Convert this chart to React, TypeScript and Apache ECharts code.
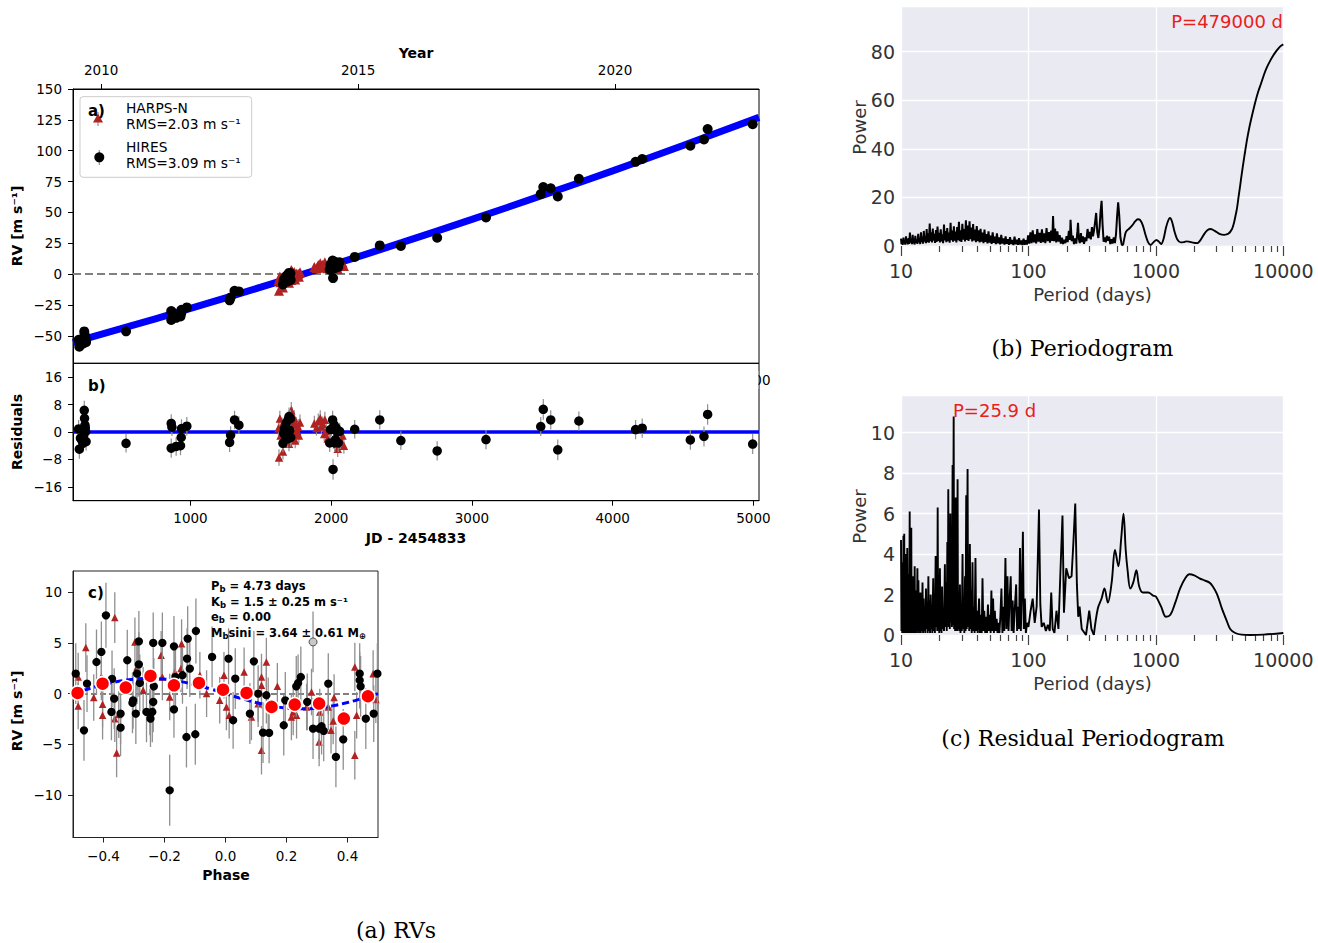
import { useEffect, useRef } from "react";
import * as echarts from "echarts";

const FONT = "DejaVu Sans";
const SERIF = "DejaVu Serif";
const HARPS_RED = "#b22222";
const ERR_GREY = "#8f8f8f";
const SEABORN_BG = "#eaeaf2";

// ---------- Panels a / b : RV time series, days since JD 2454833 ----------
const jdRange = [165, 5040];
const jdTicks = [1000, 2000, 3000, 4000, 5000];
const yearTickDays = [365, 2191, 4017];
const yearTickLabels = ["2010", "2015", "2020"];
const rvTicks = [-50, -25, 0, 25, 50, 75, 100, 125, 150];
const residTicks = [-16, -8, 0, 8, 16];

// long-period trend model [day, RV]
const trendModel = [
  [165, -55.2], [500, -44.4], [1000, -27.7], [1500, -10.5], [2000, 7.2], [2500, 25.5],
  [3000, 44.4], [3500, 63.8], [4000, 83.7], [4500, 104.2], [5040, 127.0],
];

// HIRES: [day, RV, residual, error]
const hiresRv = [
  [205, -53.1, 0.9, 2.6], [210, -58.8, -5.0, 2.8], [218, -55.3, -1.8, 2.5], [225, -55.5, -2.2, 2.4],
  [235, -56.3, -3.3, 2.6], [240, -54.0, -1.2, 2.5], [245, -46.4, 6.3, 2.8], [247, -48.7, 4.0, 2.6],
  [250, -50.5, 2.0, 2.5], [252, -51.3, 1.2, 2.4], [255, -52.3, 0.1, 2.5], [258, -55.1, -2.8, 2.6],
  [542, -46.3, -3.3, 2.7],
  [863, -29.9, 2.5, 2.7], [868, -30.8, 1.4, 2.6], [863, -37.1, -4.7, 2.8], [898, -35.4, -4.2, 2.7],
  [929, -34.2, -4.0, 2.8], [934, -31.6, -1.6, 2.6], [936, -28.9, 1.0, 2.7], [974, -26.9, 1.7, 2.7],
  [1278, -21.2, -3.0, 2.8], [1285, -18.9, -0.9, 2.6], [1313, -13.5, 3.5, 2.7], [1344, -14.0, 2.0, 2.6],
  [1657, -8.3, -3.3, 2.6], [1662, -5.1, -0.3, 2.5], [1668, -3.6, 1.0, 2.5], [1675, -5.6, -1.2, 2.6],
  [1680, -1.6, 2.6, 2.5], [1690, -5.8, -2.0, 2.6], [1693, -0.2, 3.5, 2.5], [1700, 1.0, 4.5, 2.6],
  [1705, -2.8, 0.5, 2.5], [1710, 0.8, 3.9, 2.5], [1712, -4.7, -1.6, 2.6],
  [1989, 3.6, -3.2, 2.6], [1995, 7.7, 0.7, 2.5], [2010, 11.1, 3.5, 2.7], [2013, -3.2, -10.9, 3.0],
  [2020, 10.0, 2.1, 2.6], [2025, 4.9, -3.2, 2.6], [2030, 6.1, -2.2, 2.5], [2035, 9.7, 1.2, 2.5],
  [2040, 8.8, 0.2, 2.6], [2050, 5.8, -3.2, 2.6], [2060, 9.6, 0.2, 2.5],
  [2167, 14.0, 0.8, 2.7], [2345, 23.3, 3.5, 2.8], [2495, 22.8, -2.5, 2.7], [2753, 29.5, -5.5, 2.8],
  [3100, 46.0, -2.2, 2.8], [3489, 64.9, 1.6, 2.8], [3507, 70.6, 6.6, 3.0], [3560, 69.6, 3.5, 2.8],
  [3610, 62.9, -5.2, 3.0], [3760, 77.3, 3.2, 2.8], [4163, 91.0, 0.7, 2.8], [4210, 93.3, 1.1, 2.8],
  [4552, 104.0, -2.3, 2.9], [4649, 109.1, -1.3, 2.9], [4675, 117.5, 5.1, 3.0], [4995, 121.5, -3.5, 2.9],
];

// HARPS-N: [day, RV, residual, error]
const harpsRv = [
  [1625, -5.1, 1.1, 2.2], [1629, -13.5, -7.4, 2.4], [1635, -1.9, 3.9, 2.3], [1640, -6.6, -1.0, 2.2],
  [1650, -3.3, 2.0, 2.2], [1657, -10.7, -5.7, 2.3], [1700, -6.9, -3.4, 2.2], [1716, 3.4, 6.3, 2.4],
  [1716, -4.8, -1.9, 2.2], [1723, 2.2, 4.9, 2.3], [1730, 0.2, 2.6, 2.2], [1737, -2.8, -0.6, 2.2],
  [1737, 1.8, 4.0, 2.3], [1744, -4.4, -2.5, 2.2], [1751, 0.5, 2.2, 2.2], [1758, -1.1, 0.3, 2.2],
  [1765, 0.3, 1.5, 2.3], [1770, -2.0, -1.0, 2.2], [1778, 1.5, 2.8, 2.3],
  [1880, 5.8, 2.5, 2.2], [1895, 5.0, 1.2, 2.2], [1908, 7.4, 3.1, 2.3], [1922, 8.8, 4.0, 2.3],
  [1930, 6.7, 1.6, 2.2], [1940, 7.7, 2.3, 2.2], [1950, 5.2, -0.6, 2.2], [1955, 9.6, 3.6, 2.3],
  [1965, 6.6, 0.3, 2.2], [1975, 4.8, -1.9, 2.2], [2000, 8.2, 1.0, 2.2], [2020, 5.7, -2.5, 2.3],
  [2040, 5.4, -3.5, 2.3], [2046, 4.2, -4.9, 2.4], [2060, 7.7, -1.9, 2.2], [2080, 9.3, -1.0, 2.2],
  [2090, 6.7, -4.0, 2.3],
];

// ---------- Panel c : RVs folded on the 4.73 d period ----------
const phaseTicks = [-0.4, -0.2, 0, 0.2, 0.4];
const phaseRvTicks = [-10, -5, 0, 5, 10];

// [phase, RV, error]
const hiresPhased = [
  [-0.491, 1.97, 3.0], [-0.454, 0.99, 2.8], [-0.464, -3.62, 3.0], [-0.423, 3.12, 3.2],
  [-0.407, 4.11, 3.0], [-0.392, 7.73, 3.2], [-0.372, 1.45, 2.8], [-0.365, -0.49, 3.0],
  [-0.374, -1.81, 2.8], [-0.344, -1.97, 3.0], [-0.344, -3.36, 2.8], [-0.322, 3.29, 3.0],
  [-0.303, -0.66, 2.8], [-0.305, -0.92, 3.0], [-0.294, -1.97, 3.0], [-0.29, 1.97, 3.0],
  [-0.284, 2.89, 3.2], [-0.284, 5.16, 3.0], [-0.281, 1.05, 2.8], [-0.259, -1.81, 3.0],
  [-0.246, -2.47, 2.8], [-0.24, -1.81, 3.0], [-0.237, -0.82, 3.0], [-0.237, 5.0, 3.0],
  [-0.235, 0.72, 2.8], [-0.207, 5.0, 3.0], [-0.183, -9.54, 3.5], [-0.169, 4.67, 3.0],
  [-0.169, -1.55, 2.8], [-0.164, 1.64, 3.0], [-0.141, 1.81, 2.8], [-0.128, -4.28, 3.0],
  [-0.126, 3.45, 3.0], [-0.124, 5.43, 3.2], [-0.117, 2.47, 2.8], [-0.099, -4.01, 3.0],
  [-0.097, 6.18, 3.2], [-0.044, 3.62, 3.0], [0.01, 3.45, 3.0], [0.025, -2.63, 2.8],
  [0.032, 1.48, 3.0], [0.08, -1.97, 3.0], [0.093, 3.19, 3.0], [0.107, 0.0, 2.8],
  [0.123, -3.85, 3.0], [0.134, -0.16, 2.8], [0.143, -3.88, 3.0], [0.14, -1.22, 2.8],
  [0.191, -3.12, 3.0], [0.196, -0.66, 2.8], [0.232, 0.72, 3.0], [0.238, 1.05, 2.8],
  [0.247, 1.64, 3.0], [0.268, -0.82, 2.8], [0.287, -3.45, 3.0], [0.307, -3.45, 3.0],
  [0.315, -3.22, 2.8], [0.322, -3.68, 3.0], [0.337, 0.99, 3.0], [0.362, -6.25, 3.0],
  [0.386, -4.51, 3.0], [0.44, 1.97, 3.0], [0.44, 1.32, 2.8], [0.443, 0.72, 3.0],
  [0.46, -2.47, 3.0], [0.486, -1.97, 2.8], [0.498, 1.97, 3.0],
];

const harpsPhased = [
  [-0.483, 1.64, 2.4], [-0.483, -1.22, 2.3], [-0.458, 4.54, 2.4], [-0.432, -0.39, 2.3],
  [-0.407, 1.64, 2.3], [-0.403, -1.05, 2.3], [-0.403, -2.14, 2.4], [-0.363, 7.5, 2.5],
  [-0.357, -5.85, 2.4], [-0.363, -2.47, 2.3], [-0.35, -2.07, 2.3], [-0.297, 5.1, 2.4],
  [-0.29, 2.63, 2.3], [-0.27, 0.33, 2.3], [-0.248, -1.81, 2.3], [-0.211, 3.78, 2.4],
  [-0.207, 1.64, 2.3], [-0.183, -0.33, 2.3], [-0.166, 2.14, 2.3], [-0.144, 4.93, 2.4],
  [-0.146, 2.47, 2.3], [-0.084, 1.81, 2.3], [-0.062, 0.0, 2.3], [-0.019, -0.66, 2.3],
  [-0.005, 1.81, 2.3], [0.003, -1.32, 2.3], [0.012, -2.14, 2.3], [0.061, 2.14, 2.4],
  [0.085, -2.3, 2.3], [0.107, -0.99, 2.3], [0.118, 1.64, 2.3], [0.118, -5.59, 2.4],
  [0.118, 0.82, 2.3], [0.134, 3.12, 2.4], [0.17, 0.72, 2.3], [0.216, -2.3, 2.3],
  [0.222, -1.81, 2.3], [0.233, -2.14, 2.3], [0.266, -1.32, 2.3], [0.282, 0.16, 2.3],
  [0.307, -4.77, 2.4], [0.309, -1.81, 2.3], [0.337, -1.32, 2.3], [0.346, -3.62, 2.3],
  [0.353, -2.7, 2.3], [0.356, -0.39, 2.3], [0.424, 2.63, 2.4], [0.424, -6.08, 2.4],
  [0.43, -2.14, 2.3], [0.484, 1.97, 2.3], [0.493, -0.59, 2.3],
];

const flaggedPhased = [[0.287, 5.1, 3.0]];

const binnedPhased = [
  [-0.485, 0.07], [-0.403, 0.98], [-0.327, 0.6], [-0.246, 1.74], [-0.169, 0.82], [-0.087, 1.05],
  [-0.008, 0.39], [0.069, 0.07], [0.151, -1.31], [0.227, -1.08], [0.307, -0.98], [0.388, -2.46],
  [0.467, -0.26],
];

// circular orbit, K = 1.5 m/s
const keplerCurve = [
  [-0.5, 0], [-0.45, 0.46], [-0.4, 0.88], [-0.35, 1.21], [-0.3, 1.43], [-0.25, 1.5], [-0.2, 1.43],
  [-0.15, 1.21], [-0.1, 0.88], [-0.05, 0.46], [0, 0], [0.05, -0.46], [0.1, -0.88], [0.15, -1.21],
  [0.2, -1.43], [0.25, -1.5], [0.3, -1.43], [0.35, -1.21], [0.4, -0.88], [0.45, -0.46], [0.5, 0],
];

// ---------- Periodograms: [period (days), power] ----------
const minorPeriods = [20, 30, 40, 50, 60, 70, 80, 90, 200, 300, 400, 500, 600, 700, 800, 900,
  2000, 3000, 4000, 5000, 6000, 7000, 8000, 9000];
const majorPeriods = [10, 100, 1000, 10000];
const powerTicksB = [0, 20, 40, 60, 80];
const powerTicksC = [0, 2, 4, 6, 8, 10];

const periodogramNoisy = [
  [10.0, 3.0], [10.1, 0.8], [10.2, 2.4], [10.3, 0.5], [10.45, 3.5], [10.55, 1.0], [10.7, 2.2], [10.8, 0.6],
  [10.95, 4.0], [11.05, 1.2], [11.2, 2.8], [11.3, 0.7], [11.45, 3.2], [11.6, 0.9], [11.75, 5.5], [11.9, 1.4],
  [12.05, 2.6], [12.2, 0.8], [12.35, 4.6], [12.5, 1.1], [12.65, 3.0], [12.8, 0.6], [12.95, 4.2], [13.1, 1.3],
  [13.3, 2.7], [13.45, 0.9], [13.65, 5.0], [13.8, 1.5], [14.0, 3.4], [14.15, 0.8], [14.35, 5.6], [14.5, 1.6],
  [14.7, 3.9], [14.9, 1.0], [15.1, 6.2], [15.3, 1.8], [15.5, 4.1], [15.7, 1.2], [15.9, 7.0], [16.1, 1.6],
  [16.35, 5.2], [16.55, 1.4], [16.8, 9.2], [17.0, 2.0], [17.25, 5.6], [17.5, 1.5], [17.75, 7.2], [18.0, 2.2],
  [18.25, 5.0], [18.5, 1.3], [18.8, 6.6], [19.05, 1.7], [19.35, 8.0], [19.6, 2.1], [19.9, 5.4], [20.2, 1.5],
  [20.5, 6.9], [20.8, 1.9], [21.1, 4.8], [21.4, 1.2], [21.75, 8.8], [22.05, 2.3], [22.4, 6.1], [22.7, 1.6],
  [23.05, 7.4], [23.4, 2.0], [23.75, 5.5], [24.1, 1.4], [24.5, 9.6], [24.85, 2.4], [25.2, 6.3], [25.6, 1.8],
  [26.0, 8.1], [26.4, 2.2], [26.8, 5.9], [27.2, 1.5], [27.6, 7.8], [28.0, 2.4], [28.5, 10.0], [28.9, 2.0],
  [29.3, 6.5], [29.8, 1.7], [30.3, 9.1], [30.8, 2.6], [31.3, 7.0], [31.8, 1.9], [32.3, 10.6], [32.8, 2.5],
  [33.4, 8.4], [33.9, 2.1], [34.5, 10.2], [35.0, 2.8], [35.6, 7.6], [36.2, 1.9], [36.8, 9.0], [37.4, 2.3],
  [38.0, 6.8], [38.7, 1.6], [39.3, 8.2], [40.0, 2.0], [40.7, 6.4], [41.4, 1.5], [42.1, 7.1], [42.9, 1.8],
  [43.6, 5.5], [44.4, 1.2], [45.2, 6.8], [46.0, 1.7], [46.8, 4.9], [47.7, 1.1], [48.6, 6.0], [49.5, 1.4],
  [50.4, 4.3], [51.4, 0.9], [52.4, 5.6], [53.4, 1.3], [54.4, 3.8], [55.5, 0.8], [56.6, 5.2], [57.7, 1.1],
  [58.8, 3.5], [60.0, 0.7], [61.2, 4.6], [62.4, 1.0], [63.6, 3.1], [64.9, 0.6], [66.2, 4.0], [67.5, 0.9],
  [68.9, 2.8], [70.3, 0.5], [71.7, 3.6], [73.2, 0.8], [74.7, 2.5], [76.2, 0.4], [77.8, 3.9], [79.4, 0.7],
  [81.0, 2.6], [82.7, 0.5], [84.4, 3.2], [86.1, 0.6], [87.9, 2.3], [89.7, 0.4], [91.6, 3.0], [93.5, 0.5],
  [95.4, 2.4], [97.4, 0.6], [99.4, 4.4], [101.5, 1.0], [103.6, 5.6], [105.8, 1.2], [108.0, 6.4], [110.3, 1.5],
  [112.6, 4.8], [115.0, 1.1], [117.4, 7.0], [119.9, 1.8], [122.4, 5.4], [125.0, 1.3], [127.6, 6.9], [130.3, 1.6],
  [133.0, 5.2], [135.8, 1.2], [138.7, 7.4], [141.6, 2.0], [144.6, 5.7], [147.6, 1.4], [150.7, 6.3], [153.9, 2.1],
  [156.0, 12.3], [158.5, 2.0], [161.8, 7.2], [165.2, 1.5], [168.7, 6.0], [172.2, 1.8], [175.8, 4.5], [179.5, 1.0],
  [183.3, 3.4], [187.1, 0.8], [191.0, 2.6], [195.0, 1.2], [199.1, 4.1], [203.3, 1.6], [207.6, 6.2], [211.9, 2.5],
  [214.0, 10.8], [218.5, 2.0], [223.0, 4.3], [227.7, 0.8], [232.5, 3.1], [237.4, 1.0], [242.0, 5.8], [245.0, 9.5],
  [248.5, 3.0], [253.0, 1.2], [258.0, 5.3], [263.0, 1.6], [268.0, 4.0], [273.0, 0.9], [279.0, 3.5], [285.0, 2.0],
  [291.0, 7.0], [297.0, 3.2], [303.0, 5.8], [309.0, 2.7], [315.0, 7.8], [321.0, 4.0], [327.0, 6.4], [333.0, 9.5],
  [340.0, 13.6], [347.0, 5.6], [354.0, 3.3], [362.0, 8.0], [368.0, 14.0], [375.0, 18.6], [382.0, 8.5], [389.0, 1.8],
  [397.0, 3.5], [405.0, 1.5], [413.0, 4.2], [421.0, 2.2], [430.0, 3.8], [439.0, 0.8], [448.0, 2.8], [457.0, 1.0],
  [467.0, 3.5], [477.0, 1.2], [487.0, 5.0], [496.0, 12.0], [506.0, 18.0], [516.0, 12.5], [527.0, 3.5], [540.0, 0.6],
  [552.0, 0.3],
];

const periodogramSmooth = [
  [552, 0.3], [565, 3.0], [580, 5.6], [600, 6.6], [625, 7.4], [655, 8.6], [690, 10.2], [720, 11.0],
  [751, 10.8], [790, 8.5], [830, 4.5], [870, 1.5], [912, 0.4], [960, 1.6], [1012, 2.5], [1055, 1.8],
  [1101, 0.8], [1150, 3.0], [1200, 7.5], [1250, 10.5], [1290, 11.5], [1340, 10.0], [1400, 6.0], [1470, 2.8],
  [1566, 1.5], [1650, 1.6], [1730, 1.9], [1820, 1.8], [1950, 1.4], [2115, 1.2], [2250, 2.6], [2400, 5.0],
  [2550, 6.6], [2700, 7.0], [2900, 6.2], [3150, 5.0], [3440, 4.6], [3700, 5.0], [3960, 7.0], [4100, 9.5],
  [4200, 12.0], [4330, 15.5], [4450, 20.0], [4590, 25.0], [4730, 30.0], [4870, 34.5], [5020, 39.0],
  [5200, 44.0], [5400, 48.5], [5700, 54.0], [6010, 59.0], [6350, 63.5], [6700, 67.0], [7050, 70.5],
  [7430, 73.5], [7900, 76.3], [8360, 78.5], [8800, 80.2], [9200, 81.5], [9600, 82.4], [10000, 83.0],
];

const residualNoisy = [
  [10.0, 4.7], [10.08, 0.2], [10.15, 3.6], [10.22, 0.1], [10.3, 2.8], [10.38, 0.4], [10.45, 4.9], [10.52, 0.1],
  [10.6, 5.0], [10.68, 0.3], [10.75, 2.2], [10.83, 0.1], [10.9, 4.0], [10.98, 0.2], [11.05, 3.3], [11.13, 0.1],
  [11.2, 4.3], [11.28, 0.5], [11.36, 1.8], [11.44, 0.1], [11.52, 3.0], [11.6, 0.2], [11.7, 6.1], [11.78, 0.1],
  [11.86, 2.4], [11.95, 0.3], [12.04, 5.3], [12.12, 0.1], [12.2, 2.0], [12.3, 0.2], [12.4, 2.9], [12.5, 0.1],
  [12.6, 1.5], [12.7, 0.3], [12.8, 3.4], [12.9, 0.1], [13.0, 2.2], [13.1, 0.2], [13.2, 1.4], [13.3, 0.1],
  [13.45, 3.3], [13.55, 0.2], [13.7, 2.7], [13.8, 0.1], [13.95, 1.6], [14.05, 0.3], [14.2, 2.1], [14.3, 0.1],
  [14.45, 1.2], [14.6, 0.2], [14.75, 2.6], [14.9, 0.1], [15.05, 1.8], [15.2, 0.2], [15.35, 1.0], [15.5, 0.1],
  [15.7, 2.3], [15.85, 0.3], [16.0, 1.4], [16.2, 0.1], [16.4, 2.9], [16.55, 0.2], [16.75, 1.7], [16.9, 0.1],
  [17.1, 2.0], [17.25, 0.3], [17.45, 1.1], [17.6, 0.1], [17.9, 2.8], [18.05, 0.2], [18.25, 1.5], [18.45, 0.1],
  [18.7, 3.9], [18.85, 0.4], [19.1, 2.2], [19.25, 0.2], [19.4, 6.3], [19.55, 0.3], [19.75, 2.5], [19.95, 0.1],
  [20.2, 3.3], [20.4, 0.2], [20.6, 1.6], [20.8, 0.1], [21.0, 2.4], [21.25, 0.3], [21.5, 1.3], [21.75, 0.2],
  [22.1, 3.5], [22.3, 0.4], [22.6, 2.6], [22.85, 0.2], [23.1, 4.6], [23.3, 0.5], [23.5, 7.2], [23.7, 0.4],
  [23.95, 3.0], [24.15, 0.3], [24.4, 6.0], [24.6, 0.6], [24.9, 3.2], [25.1, 0.4], [25.4, 8.4], [25.6, 0.5],
  [25.9, 10.8], [26.1, 0.3], [26.4, 5.4], [26.6, 0.2], [26.9, 6.8], [27.1, 0.4], [27.35, 3.1], [27.55, 0.2],
  [27.8, 7.7], [28.0, 0.3], [28.35, 2.0], [28.65, 0.2], [29.0, 2.5], [29.3, 0.1], [29.7, 1.5], [30.0, 0.2],
  [30.4, 4.0], [30.7, 0.3], [31.1, 1.7], [31.4, 0.1], [31.8, 2.9], [32.1, 0.2], [32.5, 6.9], [32.8, 0.3],
  [33.3, 8.2], [33.6, 0.4], [34.0, 3.0], [34.3, 0.2], [34.7, 4.5], [35.1, 0.3], [35.5, 2.2], [35.9, 0.1],
  [36.4, 3.6], [36.8, 0.2], [37.3, 1.4], [37.8, 0.1], [38.4, 3.8], [38.9, 0.2], [39.5, 1.2], [40.0, 0.1],
  [41.0, 1.8], [41.6, 0.1], [42.3, 1.0], [43.0, 0.1], [43.6, 2.8], [44.3, 0.2], [45.0, 1.2], [45.8, 0.1],
  [46.5, 0.9], [47.3, 0.1], [48.1, 1.5], [49.0, 0.2], [49.8, 1.0], [50.5, 0.1], [51.2, 2.2], [52.0, 0.2],
  [52.8, 1.8], [53.6, 0.1], [54.5, 1.2], [55.4, 0.2], [56.3, 0.8], [57.2, 0.1], [58.2, 0.6], [59.2, 0.1],
  [60.2, 0.9], [61.4, 2.3], [62.5, 0.1], [63.5, 1.4], [64.6, 0.2], [66.0, 3.8], [67.2, 0.3], [68.5, 2.9],
  [69.8, 0.2], [71.0, 1.6], [72.6, 2.9], [73.8, 0.2], [75.2, 1.7], [76.5, 0.1], [78.0, 1.2], [80.1, 2.5],
  [81.5, 0.2], [83.0, 1.4], [84.5, 0.3], [85.8, 4.3], [87.2, 0.2], [88.8, 2.1], [90.5, 5.1], [92.0, 0.3],
  [93.7, 1.8], [95.5, 0.1], [97.5, 0.6], [100, 0.4], [104, 1.2], [108, 1.8], [112, 0.6], [116, 1.4],
  [121, 6.2], [124, 1.5], [127, 0.4], [132, 0.6], [137, 0.2], [142, 0.5], [147, 0.2], [151, 2.1],
  [155, 0.3], [160, 0.1], [166, 1.2], [172, 0.3], [178, 3.0], [185, 5.9], [190, 1.1], [198, 3.3],
  [208, 2.8], [218, 2.9], [225, 4.5], [233, 6.5], [240, 2.5], [246, 0.9], [252, 1.4], [262, 0.3],
  [283, 0.0], [300, 1.2], [312, 0.3], [326, 0.0],
];

const residualSmooth = [
  [326, 0.0], [350, 1.3], [375, 1.8], [395, 2.3], [420, 1.6], [450, 2.6], [478, 4.2], [508, 3.4],
  [535, 4.8], [557, 6.0], [580, 4.2], [600, 3.2], [630, 2.3], [665, 2.6], [703, 3.2], [740, 2.4],
  [790, 2.1], [871, 2.1], [950, 1.95], [1000, 1.9], [1100, 1.4], [1200, 0.9], [1300, 1.0], [1420, 1.6],
  [1550, 2.3], [1700, 2.8], [1830, 3.0], [2000, 2.95], [2200, 2.8], [2400, 2.7], [2620, 2.6], [2800, 2.4],
  [3030, 2.0], [3300, 1.3], [3600, 0.7], [3830, 0.3], [4200, 0.1], [4700, 0.02], [5500, 0.0], [7000, 0.02],
  [10000, 0.1],
];

// ---------- helpers ----------
const minus = (v: number) => String(v).replace("-", "\u2212");
const minus1 = (v: number) => v.toFixed(1).replace("-", "\u2212");

function text(x: number, y: number, content: string, o: any = {}) {
  return {
    type: "text",
    x,
    y,
    z: o.z ?? 100,
    silent: true,
    rotation: o.rot ?? 0,
    style: {
      text: content,
      fill: o.color ?? "#000",
      fontSize: o.size ?? 14,
      fontWeight: o.weight ?? "normal",
      fontFamily: o.family ?? FONT,
      align: o.align ?? "center",
      textAlign: o.align ?? "center",
      verticalAlign: "middle",
      textVerticalAlign: "middle",
      rich: o.rich,
    },
  };
}

function errorBars(data: number[][], xi: number, yi: number, z: number, width: number) {
  return {
    type: "custom",
    xAxisIndex: xi,
    yAxisIndex: yi,
    z,
    silent: true,
    clip: true,
    data,
    encode: { x: 0, y: 1 },
    renderItem: (_p: any, api: any) => {
      const x = api.value(0);
      const y = api.value(1);
      const e = api.value(2);
      const a = api.coord([x, y - e]);
      const b = api.coord([x, y + e]);
      return {
        type: "line",
        shape: { x1: a[0], y1: a[1], x2: b[0], y2: b[1] },
        style: { stroke: ERR_GREY, lineWidth: width },
      };
    },
  };
}

function scatter(data: number[][], xi: number, yi: number, symbol: string, size: number, color: string, z: number, extra: any = {}) {
  return {
    type: "scatter",
    xAxisIndex: xi,
    yAxisIndex: yi,
    z,
    silent: true,
    symbol,
    symbolSize: size,
    data,
    itemStyle: { color, opacity: 1, ...extra },
  };
}

function plainAxis(grid: number, min: number, max: number, ticks: number[], fmt: any, margin: number, pos: string, color = "#000") {
  return {
    gridIndex: grid,
    type: "value",
    min,
    max,
    position: pos,
    axisLine: { show: true, onZero: false, lineStyle: { color, width: 1 } },
    axisTick: { show: true, customValues: ticks, length: 5, inside: false, lineStyle: { color, width: 1 } },
    axisLabel: { customValues: ticks, formatter: fmt, fontSize: 13.5, color: "#000", margin, fontFamily: FONT },
    splitLine: { show: false },
  };
}

function periodAxes(grid: number) {
  return [
    {
      gridIndex: grid,
      type: "log",
      logBase: 10,
      min: 10,
      max: 10000,
      position: "bottom",
      axisLine: { show: false },
      axisTick: { show: false },
      axisLabel: {
        fontSize: 19,
        color: "#333",
        margin: 15,
        fontFamily: FONT,
        showMinLabel: true,
        showMaxLabel: true,
        formatter: (v: number) => String(Math.round(v)),
      },
      splitLine: { show: true, lineStyle: { color: "#ffffff", width: 1.3 } },
    },
    {
      gridIndex: grid,
      type: "value",
      min: 1,
      max: 4,
      position: "bottom",
      axisLine: { show: false, onZero: false },
      axisLabel: { show: false },
      splitLine: { show: false },
      axisTick: {
        show: true,
        customValues: minorPeriods.map((p) => Math.log10(p)),
        length: 6,
        lineStyle: { color: "#444", width: 1.2 },
      },
    },
    {
      gridIndex: grid,
      type: "value",
      min: 1,
      max: 4,
      position: "bottom",
      axisLine: { show: false, onZero: false },
      axisLabel: { show: false },
      splitLine: { show: false },
      axisTick: {
        show: true,
        customValues: majorPeriods.map((p) => Math.log10(p)),
        length: 10,
        lineStyle: { color: "#444", width: 1.2 },
      },
    },
  ];
}

function powerAxis(grid: number, max: number, interval: number, ticks: number[]) {
  return {
    gridIndex: grid,
    type: "value",
    min: 0,
    max,
    interval,
    axisLine: { show: false, onZero: false },
    axisTick: { show: false },
    axisLabel: { customValues: ticks, fontSize: 19, color: "#333", margin: 6, fontFamily: FONT },
    splitLine: { show: true, lineStyle: { color: "#ffffff", width: 1.3 } },
  };
}

function curve(data: number[][], xi: number, yi: number, smooth: any, width: number) {
  return {
    type: "line",
    xAxisIndex: xi,
    yAxisIndex: yi,
    data,
    smooth,
    showSymbol: false,
    symbol: "none",
    silent: true,
    z: 3,
    lineStyle: { color: "#000", width },
  };
}

const sub = { fontSize: 8.5, fontWeight: "bold", fontFamily: FONT, fill: "#000", lineHeight: 8, verticalAlign: "bottom" };
const main = { fontSize: 11.5, fontWeight: "bold", fontFamily: FONT, fill: "#000", lineHeight: 15, verticalAlign: "middle" };
const fitRich = { m: main, s: sub };

// axis indices
const X_A = 0, X_RES = 2, X_PHASE = 3, X_PB = 4, X_PC = 7;
const Y_A = 0, Y_RES = 1, Y_PHASE = 2, Y_PB = 3, Y_PC = 4;

function buildOption(): any {
  const grids = [
    { left: 73, top: 89, width: 686, height: 274.3 },
    { left: 73, top: 363.3, width: 686, height: 137.4 },
    { left: 73, top: 571, width: 305, height: 266.5 },
    { left: 901, top: 6, width: 382.3, height: 240 },
    { left: 901, top: 395, width: 382.3, height: 240 },
  ].map((g, i) => ({
    ...g,
    containLabel: false,
    outerBoundsMode: "none",
    show: true,
    backgroundColor: i >= 3 ? SEABORN_BG : "transparent",
    borderWidth: i >= 3 ? 0 : 1,
    borderColor: i === 2 ? "#222" : "#000",
  }));

  const xAxis = [
    {
      gridIndex: 0, type: "value", min: jdRange[0], max: jdRange[1], position: "bottom",
      axisLine: { show: false, onZero: false }, axisTick: { show: false }, axisLabel: { show: false }, splitLine: { show: false },
    },
    plainAxis(0, jdRange[0], jdRange[1], yearTickDays,
      (v: number) => yearTickLabels[yearTickDays.indexOf(v)] ?? "", 12, "top"),
    plainAxis(1, jdRange[0], jdRange[1], jdTicks, (v: number) => String(v), 10, "bottom"),
    plainAxis(2, -0.5, 0.5, phaseTicks, minus1, 11, "bottom", "#222"),
    ...periodAxes(3),
    ...periodAxes(4),
  ];

  const yAxis = [
    plainAxis(0, -72.2, 150, rvTicks, minus, 11, "left"),
    plainAxis(1, -20, 20, residTicks, minus, 11, "left"),
    plainAxis(2, -14.2, 12.1, phaseRvTicks, minus, 11, "left", "#222"),
    powerAxis(3, 98.8, 20, powerTicksB),
    powerAxis(4, 11.86, 2, powerTicksC),
  ];

  const series: any[] = [
    // panel a
    {
      type: "line", xAxisIndex: X_A, yAxisIndex: Y_A, data: trendModel, smooth: true, showSymbol: false,
      symbol: "none", silent: true, z: 2, lineStyle: { color: "#0000ff", width: 7 },
      markLine: {
        silent: true, symbol: "none", z: 1, label: { show: false },
        lineStyle: { type: [8, 4], color: "#808080", width: 1.9 },
        data: [{ yAxis: 0 }],
      },
    },
    scatter(harpsRv.map((p) => [p[0], p[1]]), X_A, Y_A, "triangle", 10, HARPS_RED, 3),
    scatter(hiresRv.map((p) => [p[0], p[1]]), X_A, Y_A, "circle", 10, "#000", 4),

    // panel b (residuals)
    {
      ...scatter(harpsRv.map((p) => [p[0], p[2]]), X_RES, Y_RES, "triangle", 8.5, HARPS_RED, 4),
      markLine: {
        silent: true, symbol: "none", z: 1, label: { show: false },
        lineStyle: { type: "solid", color: "#0000ff", width: 3.5 },
        data: [{ yAxis: 0 }],
      },
    },
    errorBars(harpsRv.map((p) => [p[0], p[2], p[3]]), X_RES, Y_RES, 3, 1.2),
    errorBars(hiresRv.map((p) => [p[0], p[2], p[3]]), X_RES, Y_RES, 5, 1.2),
    scatter(hiresRv.map((p) => [p[0], p[2]]), X_RES, Y_RES, "circle", 9.5, "#000", 6),

    // panel c (phase fold)
    {
      type: "line", xAxisIndex: X_PHASE, yAxisIndex: Y_PHASE, data: keplerCurve, smooth: true, showSymbol: false,
      symbol: "none", silent: true, z: 7, lineStyle: { color: "#0000ff", width: 3, type: [7, 4] },
      markLine: {
        silent: true, symbol: "none", z: 1, label: { show: false },
        lineStyle: { type: [6, 3], color: "#808080", width: 1.8 },
        data: [{ yAxis: 0 }],
      },
    },
    errorBars(harpsPhased, X_PHASE, Y_PHASE, 3, 1.3),
    scatter(harpsPhased.map((p) => [p[0], p[1]]), X_PHASE, Y_PHASE, "triangle", 7.5, HARPS_RED, 4),
    errorBars(hiresPhased, X_PHASE, Y_PHASE, 5, 1.3),
    errorBars(flaggedPhased, X_PHASE, Y_PHASE, 5, 1.3),
    scatter(hiresPhased.map((p) => [p[0], p[1]]), X_PHASE, Y_PHASE, "circle", 8.3, "#000", 6),
    scatter(flaggedPhased.map((p) => [p[0], p[1]]), X_PHASE, Y_PHASE, "circle", 8, "#c8c8c8", 6, { borderColor: "#555", borderWidth: 1 }),
    scatter(binnedPhased, X_PHASE, Y_PHASE, "circle", 14, "#ff0000", 8, { borderColor: "#ffffff", borderWidth: 1.6 }),

    // periodograms
    curve(periodogramNoisy, X_PB, Y_PB, false, 2),
    curve(periodogramSmooth, X_PB, Y_PB, 0.25, 1.9),
    curve(residualNoisy, X_PC, Y_PC, false, 1.9),
    curve(residualSmooth, X_PC, Y_PC, 0.35, 1.9),
  ];

  const supS = "s\u207B\u00B9";
  const graphics: any[] = [
    text(416, 53, "Year", { weight: "bold", size: 14 }),
    // panel a legend
    {
      type: "rect", z: 100, silent: true,
      shape: { x: 80, y: 96.7, width: 171.7, height: 80.6, r: 3 },
      style: { fill: "rgba(255,255,255,0.85)", stroke: "#cccccc", lineWidth: 1 },
    },
    { type: "line", z: 101, silent: true, shape: { x1: 98, y1: 112, x2: 98, y2: 126 }, style: { stroke: ERR_GREY, lineWidth: 1.2 } },
    { type: "polygon", z: 101, silent: true, shape: { points: [[98, 113.5], [103, 122.5], [93, 122.5]] }, style: { fill: HARPS_RED } },
    text(88, 111, "a)", { weight: "bold", size: 15, align: "left", z: 102 }),
    text(126, 107.7, "HARPS-N", { size: 13.8, align: "left", z: 102 }),
    text(126, 124.3, `RMS=2.03 m ${supS}`, { size: 13.8, align: "left", z: 102 }),
    { type: "line", z: 101, silent: true, shape: { x1: 99.3, y1: 150, x2: 99.3, y2: 165 }, style: { stroke: ERR_GREY, lineWidth: 1.2 } },
    { type: "circle", z: 101, silent: true, shape: { cx: 99.3, cy: 157.3, r: 5 }, style: { fill: "#000" } },
    text(126, 146.7, "HIRES", { size: 13.8, align: "left", z: 102 }),
    text(126, 163.3, `RMS=3.09 m ${supS}`, { size: 13.8, align: "left", z: 102 }),
    // axis titles, panels a-c
    text(17, 226, `RV [m ${supS}]`, { weight: "bold", size: 14, rot: Math.PI / 2 }),
    text(17, 432, "Residuals", { weight: "bold", size: 14, rot: Math.PI / 2 }),
    text(17, 711, `RV [m ${supS}]`, { weight: "bold", size: 14, rot: Math.PI / 2 }),
    text(416, 538, "JD - 2454833", { weight: "bold", size: 14 }),
    text(226, 875, "Phase", { weight: "bold", size: 14 }),
    // tick label of panel a's hidden bottom axis peeking past panel b
    text(753.3, 380, "5000", { size: 13.5, z: 50 }),
    { type: "rect", z: 60, silent: true, shape: { x: 734, y: 371, width: 24.3, height: 18 }, style: { fill: "#ffffff" } },
    text(88, 386, "b)", { weight: "bold", size: 15, align: "left" }),
    // panel c labels
    text(88, 593, "c)", { weight: "bold", size: 15, align: "left" }),
    text(211, 586, "{m|P}{s|b}{m| = 4.73 days}", { align: "left", rich: fitRich }),
    text(211, 602.3, `{m|K}{s|b}{m| = 1.5 \u00B1 0.25 m ${supS}}`, { align: "left", rich: fitRich }),
    text(211, 617, "{m|e}{s|b}{m| = 0.00}", { align: "left", rich: fitRich }),
    text(211, 632.5, "{m|M}{s|b}{m|sini = 3.64 \u00B1 0.61 M}{s|\u2295}", { align: "left", rich: fitRich }),
    // periodogram labels
    text(859, 127.5, "Power", { size: 18, color: "#333", rot: Math.PI / 2 }),
    text(1092.5, 294, "Period (days)", { size: 18, color: "#333" }),
    text(1283, 21.5, "P=479000 d", { size: 18, color: "#e8201c", align: "right" }),
    text(859, 516.5, "Power", { size: 18, color: "#333", rot: Math.PI / 2 }),
    text(1092.5, 683.5, "Period (days)", { size: 18, color: "#333" }),
    text(953, 410.5, "P=25.9 d", { size: 18, color: "#e8201c", align: "left" }),
    // captions
    text(396, 930, "(a) RVs", { size: 22, family: SERIF }),
    text(1082.5, 348, "(b) Periodogram", { size: 22, family: SERIF }),
    text(1083, 738, "(c) Residual Periodogram", { size: 22, family: SERIF }),
  ];

  return {
    animation: false,
    backgroundColor: "#ffffff",
    textStyle: { fontFamily: FONT },
    grid: grids,
    xAxis,
    yAxis,
    series,
    graphic: { elements: graphics },
  };
}

export default function App() {
  const ref = useRef<HTMLDivElement>(null);
  useEffect(() => {
    if (!ref.current) return;
    const chart = echarts.init(ref.current, null, { renderer: "svg" });
    chart.setOption(buildOption());
    return () => chart.dispose();
  }, []);
  return (
    <div
      ref={ref}
      style={{ position: "absolute", left: 0, top: 0, width: 1318, height: 943, background: "#fff" }}
    />
  );
}
